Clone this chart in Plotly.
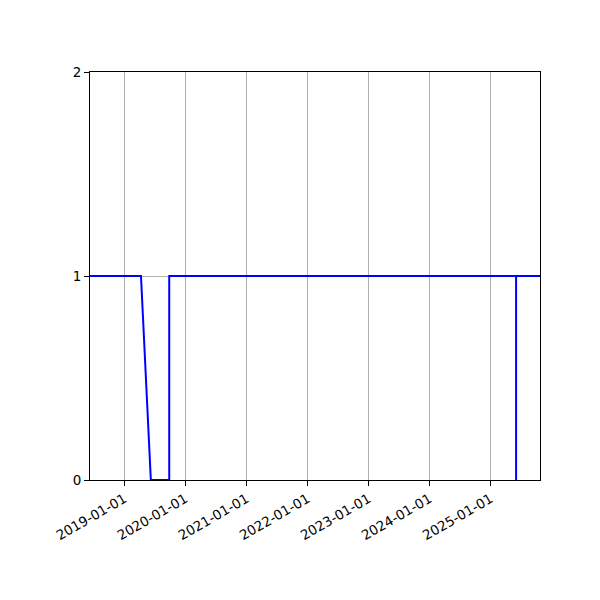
import plotly.graph_objects as go

# status series
dates = [
    "2018-06-01", "2019-04-11", "2019-06-09", "2019-09-27", "2019-09-27",
    "2025-06-02", "2025-06-02", "2025-06-02", "2025-11-01",
]
values = [1, 1, 0, 0, 1, 1, 0, 1, 1]

x_range = ["2018-06-10", "2025-10-23"]
tick_dates = ["2019-01-01", "2020-01-01", "2021-01-01", "2022-01-01",
              "2023-01-01", "2024-01-01", "2025-01-01"]
y_ticks = [0, 1, 2]

fig = go.Figure()
fig.add_trace(go.Scatter(x=dates, y=values, mode="lines",
                         line=dict(color="blue", width=2), showlegend=False))

# page has an 8px body offset, so margins are shifted to compensate
fig.update_layout(
    width=600, height=600,
    margin=dict(l=82, r=68, t=64, b=128),
    plot_bgcolor="white", paper_bgcolor="white",
    font=dict(family="DejaVu Sans", size=13.5, color="black"),
)
fig.update_xaxes(
    range=x_range, tickvals=tick_dates, tickformat="%Y-%m-%d", tickangle=-30,
    showgrid=True, gridcolor="#b0b0b0", gridwidth=1,
    showline=True, linecolor="black", linewidth=1, mirror=True,
    ticks="outside", ticklen=5, tickcolor="black", zeroline=False,
)
fig.update_yaxes(
    range=[0, 2], tickvals=y_ticks,
    showgrid=True, gridcolor="#b0b0b0", gridwidth=1,
    showline=True, linecolor="black", linewidth=1, mirror=True,
    ticks="outside", ticklen=5, tickcolor="black", zeroline=False,
)

fig.write_html("out.html")
